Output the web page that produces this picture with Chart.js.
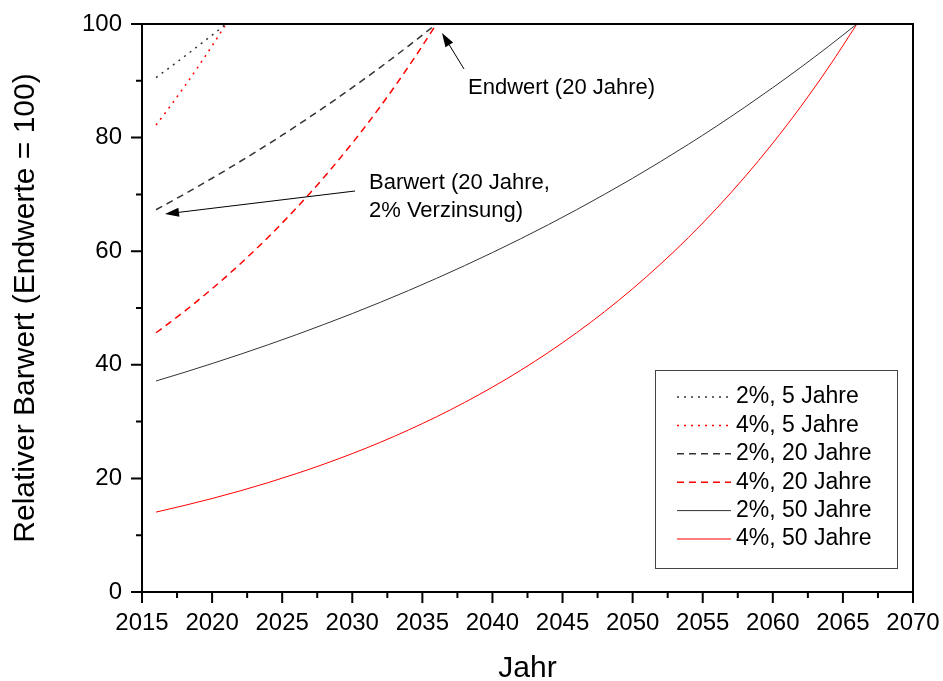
<!DOCTYPE html>
<html>
<head>
<meta charset="utf-8">
<script src="https://cdn.jsdelivr.net/npm/chart.js@4.4.1/dist/chart.umd.min.js"></script>
<style>
  html, body { margin: 0; padding: 0; background: #fff; }
  #wrap { width: 943px; height: 681px; }
</style>
</head>
<body>
<div id="wrap"><canvas id="chart" width="943" height="681"></canvas></div>
<script>
// Jahre (x-Werte)
const years5 = [2016, 2017, 2018, 2019, 2020, 2021];
const years20 = [2016, 2017, 2018, 2019, 2020, 2021, 2022, 2023, 2024, 2025, 2026,
                 2027, 2028, 2029, 2030, 2031, 2032, 2033, 2034, 2035, 2036];
const years50 = [2016, 2018, 2020, 2022, 2024, 2026, 2028, 2030, 2032, 2034, 2036, 2038, 2040,
                 2042, 2044, 2046, 2048, 2050, 2052, 2054, 2056, 2058, 2060, 2062, 2064, 2066];

// relativer Barwert (Endwert = 100)
const pv2_5 = [90.57, 92.38, 94.23, 96.12, 98.04, 100];
const pv4_5 = [82.19, 85.48, 88.90, 92.46, 96.15, 100];
const pv2_20 = [67.30, 68.64, 70.02, 71.42, 72.84, 74.30, 75.79, 77.30, 78.85, 80.43, 82.03,
                83.68, 85.35, 87.06, 88.80, 90.57, 92.38, 94.23, 96.12, 98.04, 100];
const pv4_20 = [45.64, 47.46, 49.36, 51.34, 53.39, 55.53, 57.75, 60.06, 62.46, 64.96, 67.56,
                70.26, 73.07, 75.99, 79.03, 82.19, 85.48, 88.90, 92.46, 96.15, 100];
const pv2_50 = [37.15, 38.65, 40.22, 41.84, 43.53, 45.29, 47.12, 49.02, 51.00, 53.06, 55.21, 57.44, 59.76,
                62.17, 64.68, 67.30, 70.02, 72.84, 75.79, 78.85, 82.03, 85.35, 88.80, 92.38, 96.12, 100];
const pv4_50 = [14.07, 15.22, 16.46, 17.80, 19.26, 20.83, 22.53, 24.37, 26.35, 28.51, 30.83, 33.35, 36.07,
                39.01, 42.20, 45.64, 49.36, 53.39, 57.75, 62.46, 67.56, 73.07, 79.03, 85.48, 92.46, 100];

const seriesLabels = ["2%, 5 Jahre", "4%, 5 Jahre", "2%, 20 Jahre", "4%, 20 Jahre", "2%, 50 Jahre", "4%, 50 Jahre"];
const xTickValues = [2015, 2020, 2025, 2030, 2035, 2040, 2045, 2050, 2055, 2060, 2065, 2070];

const BLACK = "#333333";
const RED = "#ff0000";
const DOT = [2, 5];
const DASH = [7, 5];
const FONT = "'Liberation Sans', Arial, sans-serif";

function pts(xs, ys) {
    return xs.map((x, i) => ({ x: x, y: ys[i] }));
}

function ds(label, xs, ys, color, dash, width) {
    return {
        label: label,
        data: pts(xs, ys),
        borderColor: color,
        borderWidth: width,
        borderDash: dash,
        pointRadius: 0,
        cubicInterpolationMode: "monotone",
        fill: false
    };
}

const datasets = [
    ds(seriesLabels[0], years5, pv2_5, BLACK, DOT, 1.5),
    ds(seriesLabels[1], years5, pv4_5, RED, DOT, 1.5),
    ds(seriesLabels[2], years20, pv2_20, BLACK, DASH, 1.5),
    ds(seriesLabels[3], years20, pv4_20, RED, DASH, 1.5),
    ds(seriesLabels[4], years50, pv2_50, BLACK, [], 1),
    ds(seriesLabels[5], years50, pv4_50, RED, [], 1)
];

function arrow(ctx, x1, y1, x2, y2) {
    // line from (x1,y1) to tip (x2,y2) with filled head
    const ang = Math.atan2(y2 - y1, x2 - x1);
    const len = 14, half = 4.5;
    const bx = x2 - len * Math.cos(ang), by = y2 - len * Math.sin(ang);
    ctx.beginPath();
    ctx.moveTo(x1, y1);
    ctx.lineTo(bx, by);
    ctx.stroke();
    ctx.beginPath();
    ctx.moveTo(x2, y2);
    ctx.lineTo(bx + half * Math.sin(ang), by - half * Math.cos(ang));
    ctx.lineTo(bx - half * Math.sin(ang), by + half * Math.cos(ang));
    ctx.closePath();
    ctx.fill();
}

const decorPlugin = {
    id: "decor",
    afterDraw(chart) {
        const ctx = chart.ctx;
        const a = chart.chartArea;
        const xs = chart.scales.x, ys = chart.scales.y;
        ctx.save();

        // frame
        ctx.strokeStyle = "#000";
        ctx.lineWidth = 2;
        ctx.setLineDash([]);
        ctx.strokeRect(a.left, a.top, a.right - a.left, a.bottom - a.top);

        // tick marks (outward), major + minor
        ctx.beginPath();
        for (let v = 2015; v <= 2070; v += 2.5) {
            const px = xs.getPixelForValue(v);
            const major = (v % 5 === 0);
            ctx.moveTo(px, a.bottom);
            ctx.lineTo(px, a.bottom + (major ? 11 : 6));
        }
        for (let v = 0; v <= 100; v += 10) {
            const py = ys.getPixelForValue(v);
            const major = (v % 20 === 0);
            ctx.moveTo(a.left, py);
            ctx.lineTo(a.left - (major ? 11 : 6), py);
        }
        ctx.stroke();

        // annotations
        ctx.strokeStyle = "#000";
        ctx.fillStyle = "#000";
        ctx.lineWidth = 1;
        arrow(ctx, 464, 69, 442, 33);
        arrow(ctx, 355, 191, 165, 214);
        ctx.font = "22px " + FONT;
        ctx.textBaseline = "middle";
        ctx.textAlign = "left";
        ctx.fillText("Endwert (20 Jahre)", 468, 88);
        ctx.fillText("Barwert (20 Jahre,", 369, 183);
        ctx.fillText("2% Verzinsung)", 369, 211);

        // legend box
        const lx = 655, ly = 370, lw = 242, lh = 198;
        ctx.fillStyle = "#fff";
        ctx.fillRect(lx, ly, lw, lh);
        ctx.strokeStyle = "#444";
        ctx.lineWidth = 1;
        ctx.strokeRect(lx + 0.5, ly + 0.5, lw, lh);
        ctx.font = "23px " + FONT;
        chart.data.datasets.forEach((d, i) => {
            const cy = 397 + i * 28.4;
            ctx.strokeStyle = d.borderColor;
            ctx.lineWidth = d.borderWidth;
            ctx.setLineDash(d.borderDash);
            ctx.beginPath();
            ctx.moveTo(677, cy);
            ctx.lineTo(731, cy);
            ctx.stroke();
            ctx.setLineDash([]);
            ctx.fillStyle = "#000";
            ctx.fillText(d.label, 736, cy);
        });

        ctx.restore();
    }
};

new Chart(document.getElementById("chart"), {
    type: "line",
    data: { datasets: datasets },
    options: {
        responsive: false,
        animation: false,
        devicePixelRatio: 1,
        layout: { padding: { top: 24, right: 30, left: 0, bottom: 0 } },
        plugins: {
            legend: { display: false },
            tooltip: { enabled: false }
        },
        scales: {
            x: {
                type: "linear",
                min: 2015,
                max: 2070,
                afterFit: function (s) {
                    s.height = 89;
                    s.paddingLeft = 0;
                    s.paddingRight = 0;
                },
                afterBuildTicks: function (s) {
                    s.ticks = xTickValues.map(v => ({ value: v }));
                },
                ticks: {
                    autoSkip: false,
                    maxRotation: 0,
                    padding: 17,
                    color: "#000",
                    font: { family: FONT, size: 24 },
                    callback: v => String(v)
                },
                grid: { drawOnChartArea: false, drawTicks: false },
                border: { display: false },
                title: {
                    display: true,
                    text: "Jahr",
                    color: "#000",
                    font: { family: FONT, size: 30, lineHeight: 1 },
                    padding: { top: 0, bottom: -3 }
                }
            },
            y: {
                min: 0,
                max: 100,
                afterFit: function (s) {
                    s.width = 142;
                    s.paddingTop = 0;
                    s.paddingBottom = 0;
                },
                ticks: {
                    stepSize: 20,
                    padding: 20,
                    color: "#000",
                    font: { family: FONT, size: 24 }
                },
                grid: { drawOnChartArea: false, drawTicks: false },
                border: { display: false },
                title: {
                    display: true,
                    text: "Relativer Barwert (Endwerte = 100)",
                    color: "#000",
                    font: { family: FONT, size: 30 },
                    padding: { top: 8, bottom: 0 }
                }
            }
        }
    },
    plugins: [decorPlugin]
});
</script>
</body>
</html>
